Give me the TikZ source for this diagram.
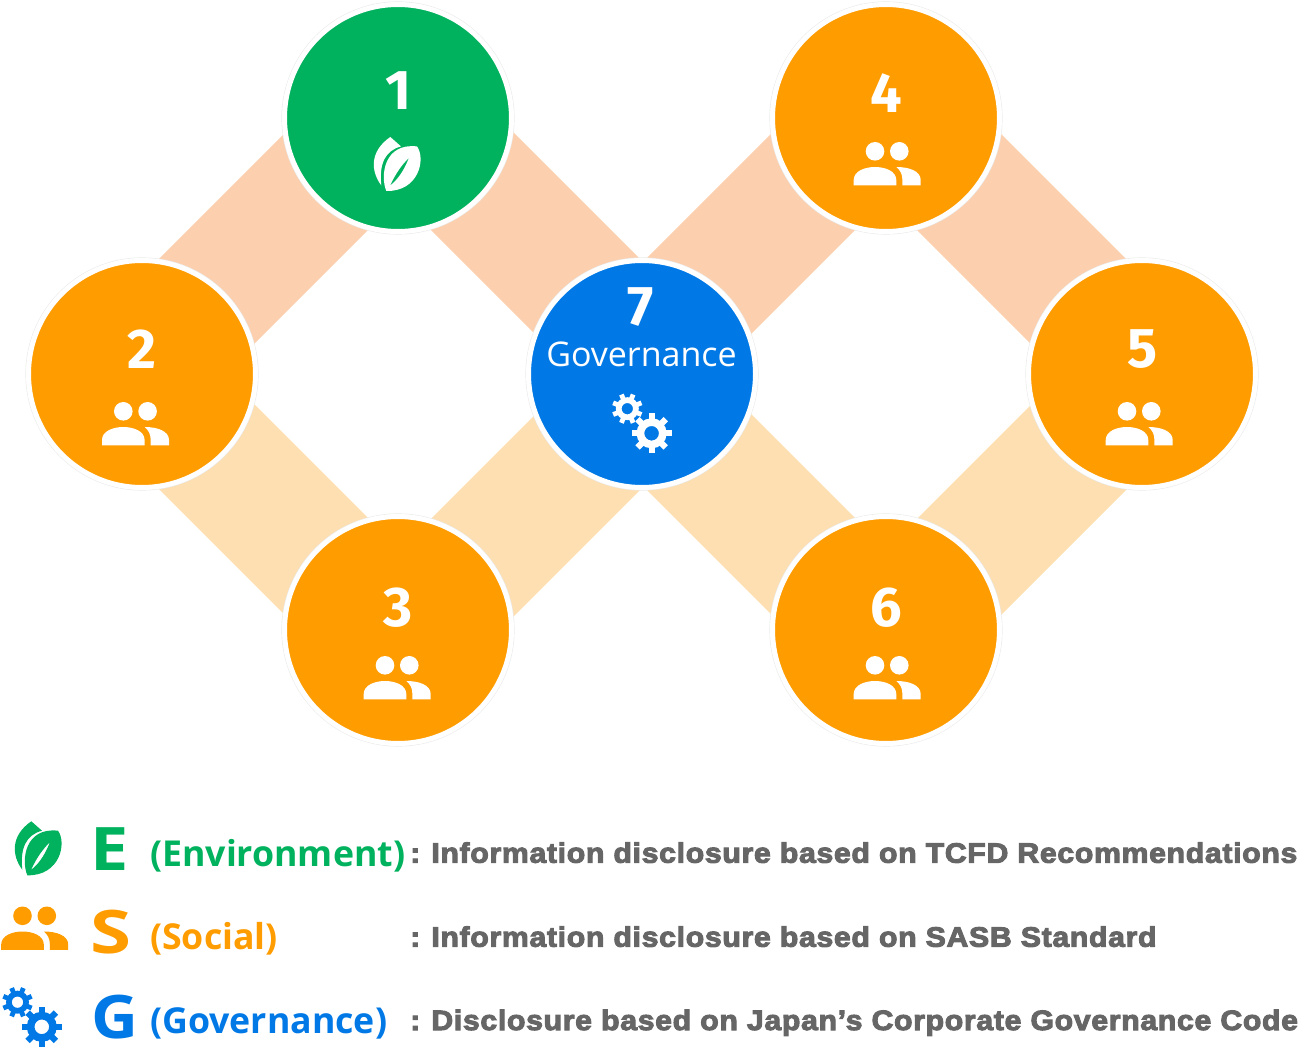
\documentclass[tikz,border=0pt]{standalone}
\usepackage{fontspec}
\usetikzlibrary{calc,backgrounds}
\setmainfont{Open Sans}
\newfontfamily\numf{Fira Sans}
\newfontfamily\greyf[FakeBold=3.6,FakeStretch=1.08,LetterSpace=2.4]{Liberation Sans}
\definecolor{cgreen}{HTML}{00B15D}
\definecolor{corange}{HTML}{FF9C00}
\definecolor{cblue}{HTML}{0079E6}
\definecolor{cpeach}{HTML}{FCD0AF}
\definecolor{clight}{HTML}{FDDFB1}
\definecolor{cgrey}{HTML}{666666}
\tikzset{
  disc/.style={circle,minimum size=227pt,inner sep=0pt,draw=white,line width=5pt,
    preaction={draw=black!8,line width=6.2pt}},
  bandpeach/.style={draw=cpeach,line width=127.3pt},
  bandlight/.style={draw=clight,line width=127.3pt},
  numlabel/.style={text=white,font=\numf\fontsize{56}{56}\selectfont\bfseries,inner sep=0pt},
  cap letter/.style={anchor=base west,inner sep=0pt,font=\fontsize{60}{60}\selectfont\bfseries},
  paren label/.style={anchor=base west,inner sep=0pt,font=\fontsize{35.7}{36}\selectfont\bfseries},
  greylabel/.style={anchor=base west,inner sep=0pt,text=cgrey,font=\greyf\fontsize{28}{28}\selectfont\bfseries},
  pics/leaficon/.style={code={
    \fill[#1,even odd rule] (-10.7,27.3) .. controls (-17,12) and (-13,-21) .. (20,-17.3)
      .. controls (29,-5) and (22,28) .. (-10.7,27.3) -- cycle
      (12,-6) .. controls (5,1) and (-1,9) .. (-7,22) .. controls (3,14) and (8,4) .. (12,-6) -- cycle;
    \fill[#1] (-6.7,-26.7) -- (4,-17.3) .. controls (-12,-13) and (-18,0) .. (-15.7,21.7)
      .. controls (-26,8) and (-28,-12) .. (-6.7,-26.7) -- cycle;
  }},
  pics/peopleicon/.style={code={
    \fill[#1] (-12,-12.7) circle[radius=9.3pt] (12.3,-12.7) circle[radius=9.3pt];
    \fill[#1] (-33.3,21.3) -- (-33.3,16) .. controls (-33.3,7) and (-22,3) .. (-12,3)
      .. controls (-2,3) and (9.3,7) .. (9.3,16) -- (9.3,21.3) -- cycle;
    \fill[#1] (15.3,21.3) -- (15.3,15) .. controls (15.3,10) and (13,6) .. (9.3,3)
      .. controls (22,3) and (33.7,7) .. (33.7,16) -- (33.7,21.3) -- cycle;
  }},
  pics/gearicon/.style={code={
    \draw[#1,line width=5.7pt] (-12,-12.3) circle[radius=8.6pt];
    \draw[#1,line width=7.6pt] (12.3,12.3) circle[radius=11.2pt];
    \foreach \a in {0,45,...,315}{
      \draw[#1,line width=4.8pt] ($(-12,-12.3)+(\a+22.5:9)$) -- ($(-12,-12.3)+(\a+22.5:15.3)$);
      \draw[#1,line width=6.2pt] ($(12.3,12.3)+(\a:12)$) -- ($(12.3,12.3)+(\a:20)$);
    }
  }}
}
\begin{document}
\begin{tikzpicture}[x=1pt,y=-1pt]
\useasboundingbox (0,0) rectangle (1299,1048);
\node[disc,fill=cgreen]  (n1) at (398,118) {};
\node[disc,fill=corange] (n2) at (142,374) {};
\node[disc,fill=corange] (n3) at (398,630) {};
\node[disc,fill=corange] (n4) at (886,118) {};
\node[disc,fill=corange] (n5) at (1142,374) {};
\node[disc,fill=corange] (n6) at (886,630) {};
\node[disc,fill=cblue]   (n7) at (642,374) {};
\begin{scope}[on background layer]
  \draw[bandpeach] ($(n1)+(-4,-4)$) -- ($(n2)+(-4,-4)$);
  \draw[bandlight] ($(n2)+(-4,4)$) -- ($(n3)+(-4,4)$);
  \draw[bandpeach] ($(n1)+(5.5,-5.5)$) -- ($(n7)+(11.5,-11.5)$);
  \draw[bandpeach] ($(n4)+(-4.5,-4.5)$) -- ($(n7)+(-10.5,-10.5)$);
  \draw[bandlight] ($(n7)+(12,12)$) -- ($(n3)+(6,6)$);
  \draw[bandlight] ($(n7)+(-10.5,10.5)$) -- ($(n6)+(-4.5,4.5)$);
  \draw[bandpeach] ($(n4)+(4.5,-4.5)$) -- ($(n5)+(4.5,-4.5)$);
  \draw[bandlight] ($(n5)+(5,5)$) -- ($(n6)+(5,5)$);
\end{scope}
\node[numlabel] (t1) at (398.5,91) {1};
\node[numlabel] (t2) at (142,349) {2};
\node[numlabel] (t3) at (398,607.5) {3};
\node[numlabel] (t4) at (886,93) {4};
\node[numlabel] (t5) at (1142,349) {5};
\node[numlabel] (t6) at (886,607.5) {6};
\node[numlabel] (t7) at (641,307) {7};
\node[anchor=base,inner sep=0pt,text=white,font=\fontsize{34}{34}\selectfont] (t7b) at (641.5,367) {Governance};
\pic at (397,163.7) {leaficon=white};
\pic at (135.3,424) {peopleicon=white};
\pic at (397,678) {peopleicon=white};
\pic at (887,164) {peopleicon=white};
\pic at (1139,424) {peopleicon=white};
\pic at (887,678) {peopleicon=white};
\pic at (639.3,421) {gearicon=white};
\pic at (38,848) {leaficon=cgreen};
\pic at (34.5,928.5) {peopleicon=corange};
\pic at (29.5,1014.5) {gearicon=cblue};
\node[cap letter,text=cgreen]  (le) at (90,870) {\scalebox{1.14}[1]{E}};
\node[cap letter,text=corange] (ls) at (90,953) {\scalebox{1.24}[1]{S}};
\node[cap letter,text=cblue]   (lg) at (91,1038) {\scalebox{1.08}[1]{G}};
\node[paren label,text=cgreen]  (pe) at (150,866.7) {(Environment)};
\node[paren label,text=corange] (ps) at (150,949) {(Social)};
\node[paren label,text=cblue]   (pg) at (150,1033) {(Governance)};
\node[greylabel] (d1) at (410,862.7) {: \kern-1pt Information disclosure based on TCFD Recommendations};
\node[greylabel] (d2) at (410,946.7) {: \kern-1pt Information disclosure based on SASB Standard};
\node[greylabel] (d3) at (410,1030) {: \kern-1pt Disclosure based on Japan’s Corporate Governance Code};
\end{tikzpicture}
\end{document}
